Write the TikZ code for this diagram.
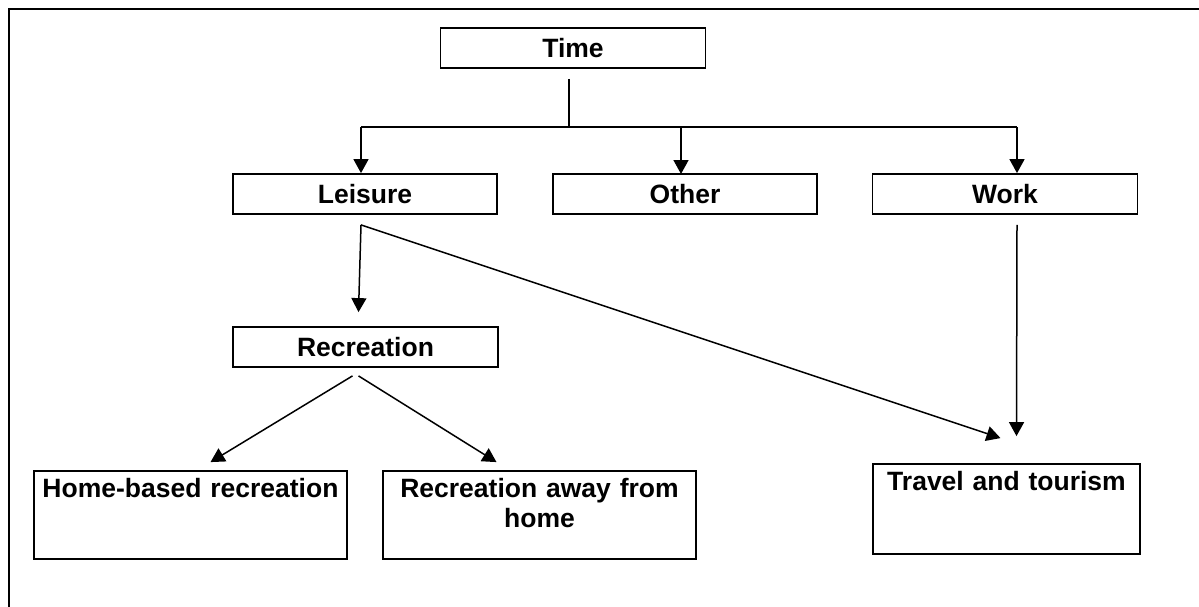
\documentclass[tikz,border=0pt]{standalone}
\usepackage{fontspec}
\setmainfont{Liberation Sans}
\usepackage{tikz}
\usetikzlibrary{positioning,arrows.meta,calc}

\begin{document}
\begin{tikzpicture}[x=1pt, y=-1pt,
  box/.style={draw, line width=1.8pt, inner sep=0pt, minimum height=40pt,
              font=\fontsize{26.5}{30}\selectfont\bfseries, align=center},
  tallbox/.style={box, text height=26pt},
  arr/.style={-{Triangle[length=14pt, width=15pt]}, line width=1.5pt},
  ln/.style={line width=1.5pt},
  frame/.style={line width=1.8pt},
]
\clip (0,0) rectangle (1199,606);
\draw[frame] (9,9) rectangle (1220,630);

% top level
\node[box, minimum width=265pt] (time) at (573,48) {Time};
\node[box, minimum width=264pt] (leisure) at (365,194) {Leisure};
\node[box, minimum width=264pt] (other) at (685,194) {Other};
\node[box, minimum width=265pt] (work) at (1005,194) {Work};

\coordinate (split) at (569,127);
\coordinate (bl) at (361,127);
\coordinate (br) at (1017,127);
\draw[ln] ($(time.south)+(-4,10)$) -- (split);
\draw[ln] (bl) -- (br);
\draw[arr] (bl) -- (bl |- leisure.north);
\draw[arr] (split -| other.north) ++(-4,0) -- ++(0,47);
\draw[arr] (br) -- (br |- work.north);

% leisure branch
\node[box, minimum width=265pt] (recr) at (365.5,347) {Recreation};
\node[tallbox, text width=313pt, text depth=62pt] (home) at (190.5,515) {Home-based recreation};
\node[tallbox, text width=313pt, text depth=62pt] (away) at (539.5,515) {Recreation away from\\home};
\node[tallbox, text width=267pt, text depth=64pt] (travel) at (1006.5,509) {Travel and tourism};

\coordinate (lsrc) at ($(leisure.south)+(-4,10)$);
\draw[arr] (lsrc) -- ($(recr.north)+(-7,-14)$);
\draw[arr] (lsrc) -- ($(travel.north)+(-6,-25)$);
\draw[arr] ($(work.south)+(12,10)$) -- ($(travel.north)+(10,-27)$);

% recreation branch
\draw[arr] ($(recr.south)+(-13,8)$) -- ($(home.north)+(20,-8)$);
\draw[arr] ($(recr.south)+(-7,8)$) -- ($(away.north)+(-43,-8)$);
\end{tikzpicture}
\end{document}
